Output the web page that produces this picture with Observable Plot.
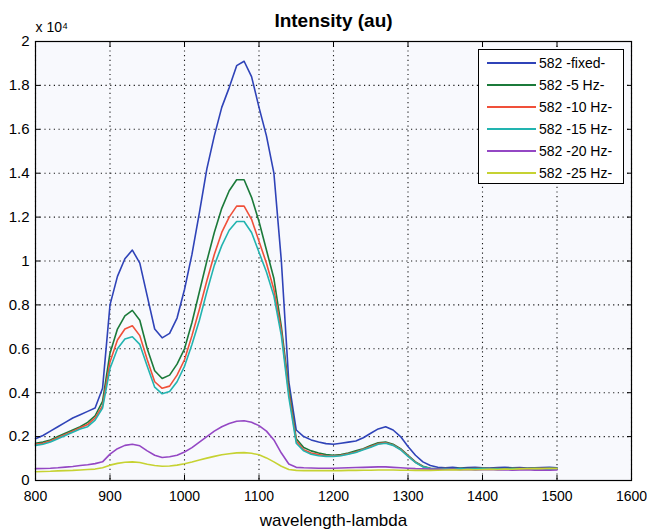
<!DOCTYPE html>
<html>
<head>
<meta charset="utf-8">
<script src="https://cdn.jsdelivr.net/npm/d3@7"></script>
<script src="https://cdn.jsdelivr.net/npm/@observablehq/plot@0.6"></script>
<style>
  html, body { margin: 0; padding: 0; background: #ffffff; }
  #wrap { position: relative; width: 647px; height: 529px; font-family: "Liberation Sans", Arial, sans-serif; }
  #legend { position: absolute; left: 478px; top: 49px; width: 146px; height: 135px; border: 1px solid #000; background: #ffffff; box-sizing: border-box; }
  .row { position: absolute; left: 0; height: 22px; display: flex; align-items: center; font-size: 14px; color: #000; }
  .row svg { margin-left: 8px; margin-right: 3px; }
</style>
</head>
<body>
<div id="wrap"><div id="legend"></div></div>
<script>
const wavelength = [800,810,820,830,840,850,860,870,880,890,900,910,920,930,940,950,960,970,980,990,
  1000,1010,1020,1030,1040,1050,1060,1070,1080,1090,1100,1110,1120,1130,1140,1150,1160,1170,1180,1190,
  1200,1210,1220,1230,1240,1250,1260,1270,1280,1290,1300,1310,1320,1330,1340,1350,1360,1370,1380,1390,
  1400,1410,1420,1430,1440,1450,1460,1470,1480,1490,1500];

const fixed = [1900,2050,2250,2450,2650,2850,3000,3150,3300,4200,8000,9300,10100,10500,9900,8400,6900,6500,6700,7400,
  8700,10300,12200,14200,15700,17000,17900,18900,19100,18400,17000,15700,14000,10000,4500,2300,2000,1850,1750,1680,
  1650,1700,1750,1800,1950,2150,2350,2450,2300,2000,1550,1150,850,680,600,580,600,570,590,600,
  580,570,590,600,580,590,570,580,590,600,580];
const hz5 = [1700,1750,1850,2000,2150,2300,2450,2650,2950,3600,5800,6900,7500,7750,7300,6000,5000,4650,4800,5300,
  6000,7200,8600,10000,11300,12400,13200,13700,13700,12900,11800,10500,9200,7000,4200,1900,1500,1350,1250,1180,
  1150,1180,1250,1350,1450,1600,1720,1750,1650,1450,1150,850,650,560,530,550,530,560,540,550,
  560,540,550,530,560,550,540,560,550,540,560];
const hz10 = [1650,1700,1800,1950,2100,2250,2400,2550,2850,3400,5400,6400,6900,7050,6600,5500,4500,4200,4300,4800,
  5500,6600,7800,9100,10300,11300,12000,12500,12500,11900,10900,9900,8700,6800,4000,1800,1400,1250,1180,1130,
  1120,1150,1220,1300,1420,1550,1680,1720,1620,1420,1120,830,630,550,520,540,520,550,530,540,
  550,530,540,520,550,540,530,550,540,530,550];
const hz15 = [1600,1650,1750,1900,2050,2200,2350,2450,2750,3300,5100,6000,6450,6550,6200,5200,4250,3950,4050,4500,
  5200,6200,7300,8600,9800,10700,11400,11800,11800,11300,10400,9500,8400,6600,3800,1700,1350,1200,1130,1100,
  1100,1130,1200,1280,1400,1520,1650,1700,1600,1400,1100,820,620,540,510,530,510,540,520,530,
  540,520,530,510,540,530,520,540,530,520,540];
const hz20 = [540,550,560,580,610,640,680,720,770,850,1200,1450,1600,1650,1580,1350,1150,1050,1080,1150,
  1300,1500,1750,2000,2250,2450,2600,2700,2720,2650,2500,2250,1850,1250,750,600,580,570,560,560,
  560,570,580,590,600,610,620,620,600,580,560,540,530,520,510,500,510,490,500,480,
  490,500,480,490,470,480,490,470,480,470,480];
const hz25 = [400,410,420,440,450,460,480,500,520,580,700,780,830,850,820,740,680,650,660,700,
  760,840,930,1020,1100,1170,1220,1260,1270,1240,1170,1030,850,650,500,460,450,450,450,450,
  450,450,460,460,470,470,480,480,480,470,470,460,460,460,470,480,490,480,500,490,
  500,510,500,520,510,530,540,550,540,560,550];

const seriesNames = ["582 -fixed-", "582 -5 Hz-", "582 -10 Hz-", "582 -15 Hz-", "582 -20 Hz-", "582 -25 Hz-"];
const seriesColors = ["#2f43b8", "#1b7a3a", "#f0503a", "#22b4b0", "#9447c4", "#c6d232"];
const seriesValues = [fixed, hz5, hz10, hz15, hz20, hz25];

const xTicks = [800,900,1000,1100,1200,1300,1400,1500,1600];
const yTicks = [0,2000,4000,6000,8000,10000,12000,14000,16000,18000,20000];

const rows = [];
seriesNames.forEach((name, s) => {
  seriesValues[s].forEach((v, i) => rows.push({series: name, lambda: wavelength[i], value: v}));
});

const fmtY = d => String(+(d / 1e4).toFixed(1));

const chart = Plot.plot({
  width: 647,
  height: 529,
  marginLeft: 35,
  marginRight: 16,
  marginTop: 41,
  marginBottom: 49,
  style: {fontFamily: "'Liberation Sans', Arial, sans-serif", fontSize: "15px", background: "transparent", color: "#000"},
  x: {domain: [800, 1600]},
  y: {domain: [0, 20000]},
  color: {domain: seriesNames, range: seriesColors},
  marks: [
    Plot.frame({fill: "#f8f9fd", stroke: null}),
    Plot.gridX(xTicks, {stroke: "#000", strokeOpacity: 0.9, strokeDasharray: "1.2,3.5", strokeWidth: 1.1}),
    Plot.gridY(yTicks, {stroke: "#000", strokeOpacity: 0.9, strokeDasharray: "1.2,3.5", strokeWidth: 1.1}),
    Plot.line(rows, {x: "lambda", y: "value", z: "series", stroke: "series", strokeWidth: 1.6, curve: "linear"}),
    Plot.frame({stroke: "#000", strokeWidth: 1.2}),
    Plot.axisX(xTicks, {anchor: "bottom", tickSize: -5, tickPadding: 16, tickFormat: d => String(d), fontSize: 14, label: null}),
    Plot.axisX(xTicks, {anchor: "top", tickSize: -5, tickFormat: () => "", label: null}),
    Plot.axisY(yTicks, {anchor: "left", tickSize: -5, tickPadding: 11, tickFormat: fmtY, fontSize: 15, label: null}),
    Plot.axisY(yTicks, {anchor: "right", tickSize: -5, tickFormat: () => "", label: null}),
    Plot.text(["Intensity (au)"], {frameAnchor: "top", lineAnchor: "middle", dy: -21, fontWeight: "bold", fontSize: 19}),
    Plot.text(["x 10\u2074"], {frameAnchor: "top-left", lineAnchor: "middle", dy: -14, dx: 0, textAnchor: "start", fontSize: 14}),
    Plot.text(["wavelength-lambda"], {frameAnchor: "bottom", lineAnchor: "middle", dy: 40, fontSize: 17})
  ]
});

const wrap = document.getElementById("wrap");
wrap.insertBefore(chart, wrap.firstChild);

const legend = document.getElementById("legend");
seriesNames.forEach((name, i) => {
  const row = document.createElement("div");
  row.className = "row";
  row.style.top = (2 + i * 22) + "px";
  row.innerHTML = `<svg width="49" height="4"><line x1="0" y1="2" x2="49" y2="2" stroke="${seriesColors[i]}" stroke-width="2"/></svg><span>${name}</span>`;
  legend.appendChild(row);
});
</script>
</body>
</html>
